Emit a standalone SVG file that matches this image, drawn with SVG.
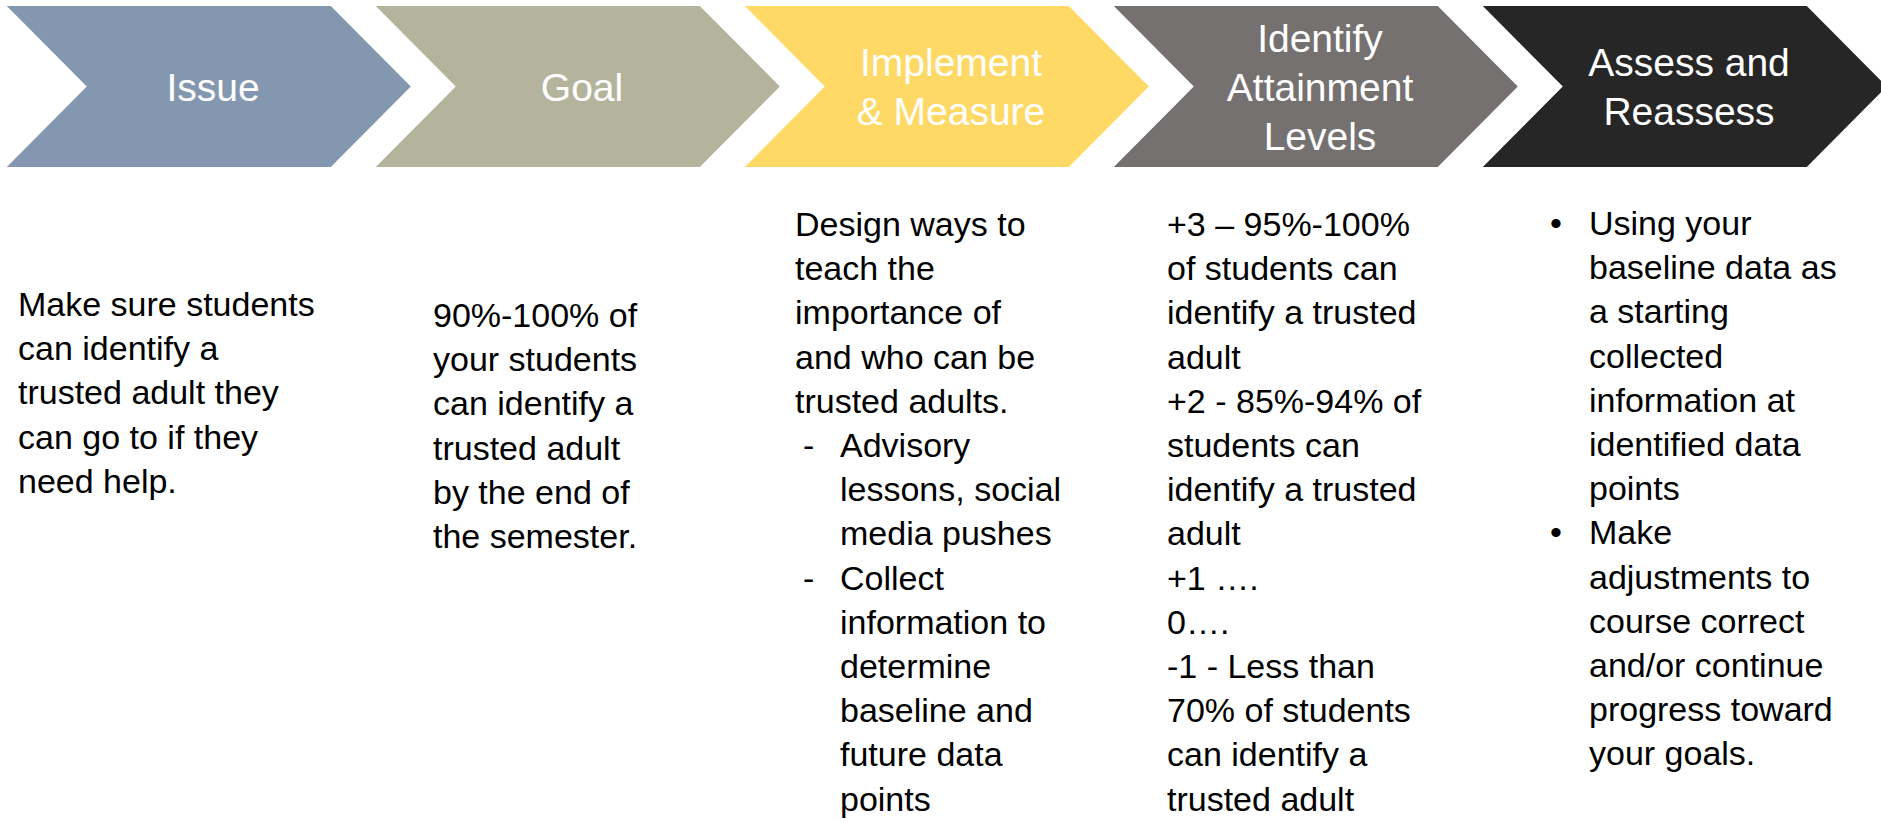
<svg xmlns="http://www.w3.org/2000/svg" width="1881" height="822" viewBox="0 0 1881 822">
<style>
.lbl{font-family:"Liberation Sans",Arial,sans-serif;font-size:39px;fill:#ffffff;text-anchor:middle}
.body{font-family:"Liberation Sans",Arial,sans-serif;font-size:34px;fill:#000000}
</style>
<defs>
<polygon id="chev" points="0,6 324,6 404,86.5 324,167 0,167 80,86.5"/>
</defs>
<rect width="1881" height="822" fill="#ffffff"/>
<g id="connectors"/>
<g id="issue">
<use href="#chev" x="6.8" fill="#8497B0"/>
<text class="lbl" x="213" y="101">Issue</text>
</g>
<g id="goal">
<use href="#chev" x="375.8" fill="#B4B49C"/>
<text class="lbl" x="582" y="101">Goal</text>
</g>
<g id="implement">
<use href="#chev" x="744.8" fill="#FFD966"/>
<text class="lbl" x="951" y="76">Implement</text>
<text class="lbl" x="951" y="125">&amp; Measure</text>
</g>
<g id="identify">
<use href="#chev" x="1113.8" fill="#767171"/>
<text class="lbl" x="1320" y="52">Identify</text>
<text class="lbl" x="1320" y="101">Attainment</text>
<text class="lbl" x="1320" y="150">Levels</text>
</g>
<g id="assess">
<use href="#chev" x="1482.8" fill="#262626"/>
<text class="lbl" x="1689" y="76">Assess and</text>
<text class="lbl" x="1689" y="125">Reassess</text>
</g>
<g id="issue-text">
<text class="body">
<tspan x="18" y="316">Make sure students</tspan>
<tspan x="18" y="360.2">can identify a</tspan>
<tspan x="18" y="404.4">trusted adult they</tspan>
<tspan x="18" y="448.6">can go to if they</tspan>
<tspan x="18" y="492.8">need help.</tspan>
</text>
</g>
<g id="goal-text">
<text class="body">
<tspan x="433" y="327">90%-100% of</tspan>
<tspan x="433" y="371.2">your students</tspan>
<tspan x="433" y="415.4">can identify a</tspan>
<tspan x="433" y="459.6">trusted adult</tspan>
<tspan x="433" y="503.8">by the end of</tspan>
<tspan x="433" y="548">the semester.</tspan>
</text>
</g>
<g id="implement-text">
<text class="body">
<tspan x="795" y="236">Design ways to</tspan>
<tspan x="795" y="280.2">teach the</tspan>
<tspan x="795" y="324.4">importance of</tspan>
<tspan x="795" y="368.6">and who can be</tspan>
<tspan x="795" y="412.8">trusted adults.</tspan>
<tspan x="803" y="457">-</tspan>
<tspan x="840" y="457">Advisory</tspan>
<tspan x="840" y="501.2">lessons, social</tspan>
<tspan x="840" y="545.4">media pushes</tspan>
<tspan x="803" y="589.6">-</tspan>
<tspan x="840" y="589.6">Collect</tspan>
<tspan x="840" y="633.8">information to</tspan>
<tspan x="840" y="678">determine</tspan>
<tspan x="840" y="722.2">baseline and</tspan>
<tspan x="840" y="766.4">future data</tspan>
<tspan x="840" y="810.6">points</tspan>
</text>
</g>
<g id="identify-text">
<text class="body">
<tspan x="1167" y="236">+3 – 95%-100%</tspan>
<tspan x="1167" y="280.2">of students can</tspan>
<tspan x="1167" y="324.4">identify a trusted</tspan>
<tspan x="1167" y="368.6">adult</tspan>
<tspan x="1167" y="412.8">+2 - 85%-94% of</tspan>
<tspan x="1167" y="457">students can</tspan>
<tspan x="1167" y="501.2">identify a trusted</tspan>
<tspan x="1167" y="545.4">adult</tspan>
<tspan x="1167" y="589.6">+1 ….</tspan>
<tspan x="1167" y="633.8">0….</tspan>
<tspan x="1167" y="678">-1 - Less than</tspan>
<tspan x="1167" y="722.2">70% of students</tspan>
<tspan x="1167" y="766.4">can identify a</tspan>
<tspan x="1167" y="810.6">trusted adult</tspan>
</text>
</g>
<g id="assess-text">
<text class="body">
<tspan x="1550" y="235">•</tspan>
<tspan x="1589" y="235">Using your</tspan>
<tspan x="1589" y="279.2">baseline data as</tspan>
<tspan x="1589" y="323.4">a starting</tspan>
<tspan x="1589" y="367.6">collected</tspan>
<tspan x="1589" y="411.8">information at</tspan>
<tspan x="1589" y="456">identified data</tspan>
<tspan x="1589" y="500.2">points</tspan>
<tspan x="1550" y="544.4">•</tspan>
<tspan x="1589" y="544.4">Make</tspan>
<tspan x="1589" y="588.6">adjustments to</tspan>
<tspan x="1589" y="632.8">course correct</tspan>
<tspan x="1589" y="677">and/or continue</tspan>
<tspan x="1589" y="721.2">progress toward</tspan>
<tspan x="1589" y="765.4">your goals.</tspan>
</text>
</g>
</svg>
